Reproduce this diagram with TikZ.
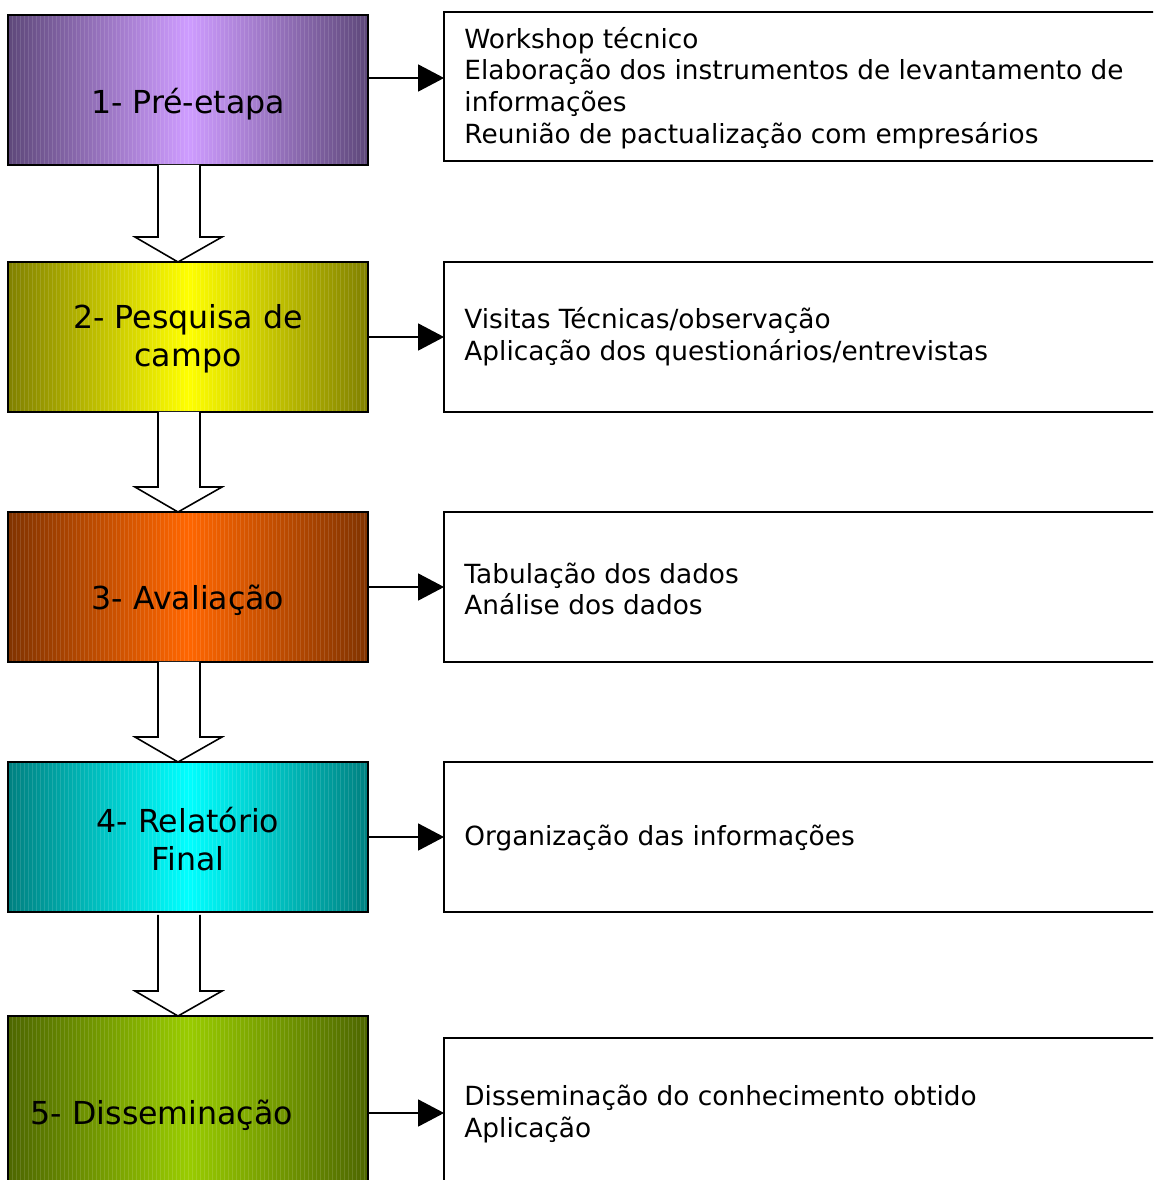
\documentclass[tikz,border=0pt]{standalone}
\usepackage{fontspec}
\setmainfont{DejaVu Sans}
\definecolor{roxoEdge}{RGB}{94,72,122}
\definecolor{roxoMid}{RGB}{206,156,255}
\definecolor{amareloEdge}{RGB}{128,128,0}
\definecolor{amareloMid}{RGB}{255,255,0}
\definecolor{laranjaEdge}{RGB}{128,51,0}
\definecolor{laranjaMid}{RGB}{255,102,0}
\definecolor{cianoEdge}{RGB}{0,128,128}
\definecolor{cianoMid}{RGB}{0,255,255}
\definecolor{verdeEdge}{RGB}{77,102,0}
\definecolor{verdeMid}{RGB}{153,204,0}
\usetikzlibrary{arrows.meta,calc}

\begin{document}
\begin{tikzpicture}[x=0.02cm,y=-0.02cm,
  stagebox/.style={draw,line width=1.1pt,minimum width=7.2cm,minimum height=3cm,
        inner sep=0pt,outer sep=0pt,
        path picture={\foreach \k in {0,4,...,360}
          \draw[white,opacity=0.12,line width=0.3pt]
            ($(path picture bounding box.north west)+(\k,0)$) --
            ($(path picture bounding box.south west)+(\k,0)$);}},
  stagelbl/.style={font=\fontsize{18}{21.5}\selectfont,align=center},
  detailbox/.style={draw,line width=0.9pt,fill=white,minimum width=14.4cm,
        minimum height=3cm,inner sep=0pt,outer sep=0pt},
  detailtxt/.style={font=\fontsize{15}{18.1}\selectfont,align=left,anchor=west,inner sep=0pt},
  arr/.style={-{Triangle[length=0.52cm,width=0.54cm]},line width=0.9pt},
  blockarr/.style={draw,line width=0.9pt,fill=white,line join=miter}]

  \path[use as bounding box,clip] (0,0) rectangle (1153,1180);

  %% Stages (left column)
  \node[stagebox,left color=roxoEdge,right color=roxoEdge,middle color=roxoMid]
        (s1) at (188,90) {};
  \node[stagebox,left color=amareloEdge,right color=amareloEdge,middle color=amareloMid]
        (s2) at (188,337) {};
  \node[stagebox,left color=laranjaEdge,right color=laranjaEdge,middle color=laranjaMid]
        (s3) at (188,587) {};
  \node[stagebox,left color=cianoEdge,right color=cianoEdge,middle color=cianoMid]
        (s4) at (188,837) {};
  \node[stagebox,minimum height=3.6cm,left color=verdeEdge,right color=verdeEdge,middle color=verdeMid]
        (s5) at (188,1106) {};

  \node[stagelbl] at ($(s1.center)+(0,14)$) {1- Pré-etapa};
  \node[stagelbl] at ($(s2.center)+(0,2)$) {2- Pesquisa de\\campo};
  \node[stagelbl] at ($(s3.center)+(0,13)$) {3- Avaliação};
  \node[stagelbl] at ($(s4.center)+(0,2)$) {4- Relatório\\Final};
  \node[stagelbl] at ($(s5.center)+(-26,9)$) {5- Disseminação};

  %% Activities (right column)
  \node[detailbox,minimum height=2.98cm] (d1) at (804,86.5) {};
  \node[detailbox] (d2) at (804,337) {};
  \node[detailbox] (d3) at (804,587) {};
  \node[detailbox] (d4) at (804,837) {};
  \node[detailbox] (d5) at (804,1113) {};

  \node[detailtxt] at ($(d1.west)+(20,1.5)$)
        {Workshop técnico\\Elaboração dos instrumentos de levantamento de\\informações\\Reunião de pactualização com empresários};
  \node[detailtxt] at ($(d2.west)+(20,0)$)
        {Visitas Técnicas/observação\\Aplicação dos questionários/entrevistas};
  \node[detailtxt] at ($(d3.west)+(20,2)$)
        {Tabulação dos dados\\Análise dos dados};
  \node[detailtxt] at ($(d4.west)+(20,1)$)
        {Organização das informações};
  \node[detailtxt] at ($(d5.west)+(20,1)$)
        {Disseminação do conhecimento obtido\\Aplicação};

  %% Stage -> activities
  \draw[arr] ([yshift=0.17cm]s1.east |- d1.west) -- ([yshift=0.17cm]d1.west);
  \draw[arr] (s2.east) -- (d2.west);
  \draw[arr] (s3.east) -- (d3.west);
  \draw[arr] (s4.east) -- (d4.west);
  \draw[arr] (s5.east |- d5.west) -- (d5.west);

  %% Block arrows between stages
  \draw[blockarr] ($(s1.south)+(-30,0)$) |- ($(s2.north)+(-53,-25)$)
        -- ($(s2.north)+(-10,0)$) -- ($(s2.north)+(34,-25)$) -| ($(s1.south)+(12,0)$);
  \draw[blockarr] ($(s2.south)+(-30,0)$) |- ($(s3.north)+(-53,-25)$)
        -- ($(s3.north)+(-10,0)$) -- ($(s3.north)+(34,-25)$) -| ($(s2.south)+(12,0)$);
  \draw[blockarr] ($(s3.south)+(-30,0)$) |- ($(s4.north)+(-53,-25)$)
        -- ($(s4.north)+(-10,0)$) -- ($(s4.north)+(34,-25)$) -| ($(s3.south)+(12,0)$);
  \draw[blockarr] ($(s4.south)+(-30,3)$) |- ($(s5.north)+(-53,-25)$)
        -- ($(s5.north)+(-10,0)$) -- ($(s5.north)+(34,-25)$) -| ($(s4.south)+(12,3)$);
\end{tikzpicture}
\end{document}
